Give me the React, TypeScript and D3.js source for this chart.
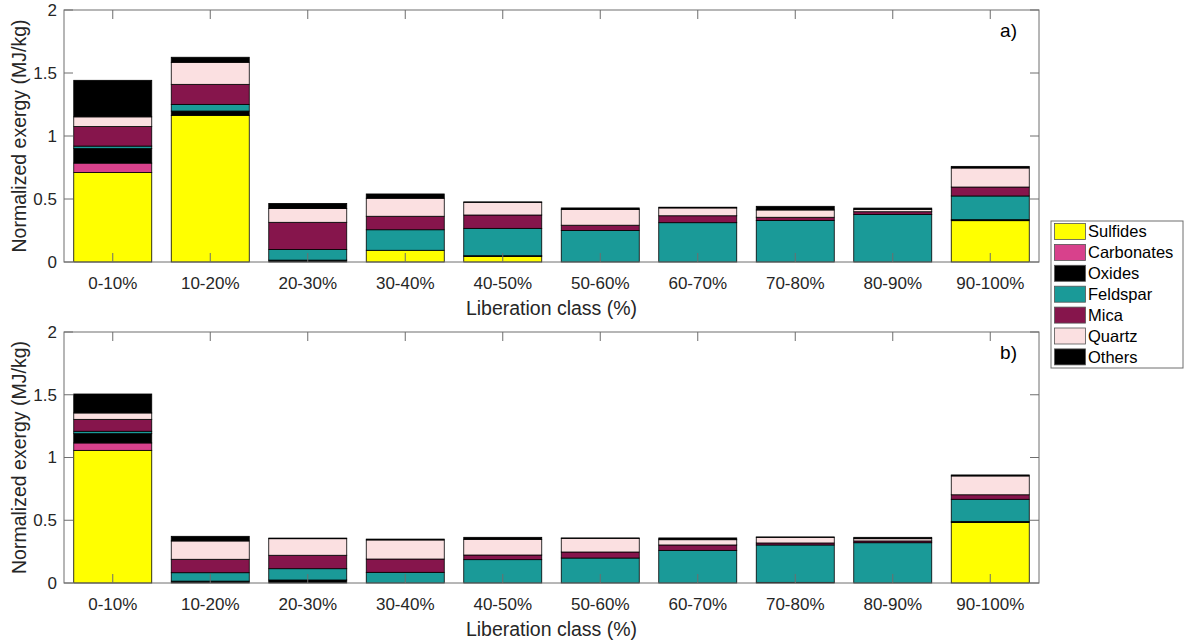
import React from 'react';
import * as d3 from 'd3';

const categories = ['0-10%', '10-20%', '20-30%', '30-40%', '40-50%', '50-60%', '60-70%', '70-80%', '80-90%', '90-100%'];
const seriesNames = ['Sulfides', 'Carbonates', 'Oxides', 'Feldspar', 'Mica', 'Quartz', 'Others'];
const seriesColors = ['#ffff00', '#d8418c', '#000000', '#1a9a98', '#86154c', '#fbe0e1', '#000000'];
const yTicks = [0, 0.5, 1, 1.5, 2];

// panel a)
const sulfidesA = [0.71, 1.164, 0, 0.093, 0.045, 0, 0, 0, 0, 0.328];
const carbonatesA = [0.075, 0, 0, 0, 0, 0, 0, 0, 0, 0];
const oxidesA = [0.115, 0.034, 0.015, 0, 0.005, 0, 0, 0, 0, 0.008];
const feldsparA = [0.02, 0.053, 0.085, 0.163, 0.217, 0.25, 0.312, 0.33, 0.378, 0.188];
const micaA = [0.155, 0.159, 0.215, 0.107, 0.106, 0.042, 0.055, 0.025, 0.021, 0.071];
const quartzA = [0.077, 0.175, 0.11, 0.143, 0.101, 0.124, 0.062, 0.058, 0.019, 0.151];
const othersA = [0.29, 0.04, 0.04, 0.034, 0.003, 0.013, 0.006, 0.029, 0.01, 0.013];

// panel b)
const sulfidesB = [1.057, 0, 0, 0, 0, 0, 0, 0, 0, 0.483];
const carbonatesB = [0.059, 0, 0, 0, 0, 0, 0, 0, 0, 0];
const oxidesB = [0.074, 0.015, 0.024, 0, 0, 0, 0, 0.005, 0, 0.007];
const feldsparB = [0.019, 0.067, 0.09, 0.085, 0.186, 0.199, 0.26, 0.298, 0.321, 0.177];
const micaB = [0.095, 0.107, 0.107, 0.106, 0.037, 0.048, 0.043, 0.016, 0.014, 0.036];
const quartzB = [0.051, 0.146, 0.132, 0.152, 0.125, 0.109, 0.042, 0.045, 0.018, 0.15];
const othersB = [0.151, 0.037, 0.005, 0.007, 0.016, 0.003, 0.014, 0.003, 0.011, 0.008];

const FONT = '"Liberation Sans", Arial, sans-serif';
const AXIS = '#6e6e6e';
const TEXT = '#262626';

const left = 64;
const right = 1039;

const buildRows = (cols: number[][]) =>
  categories.map((c, i) => {
    const row: Record<string, any> = { cat: c };
    seriesNames.forEach((s, j) => (row[s] = cols[j][i]));
    return row;
  });

interface PanelProps {
  cols: number[][];
  top: number;
  bottom: number;
  tag: string;
}

const Panel: React.FC<PanelProps> = ({ cols, top, bottom, tag }) => {
  const rows = buildRows(cols);
  const stacked = d3.stack<any>().keys(seriesNames)(rows);
  const x = d3.scaleBand().domain(categories).range([left, right]).paddingInner(0.2).paddingOuter(0.1);
  const y = d3.scaleLinear().domain([0, 2]).range([bottom, top]);
  const tl = 9;

  return (
    <g>
      {stacked.map((layer, j) => (
        <g key={seriesNames[j]}>
          {layer.map((d, i) =>
            d[1] - d[0] > 0 ? (
              <rect
                key={i}
                x={x(categories[i])!}
                width={x.bandwidth()}
                y={y(d[1])}
                height={y(d[0]) - y(d[1])}
                fill={seriesColors[j]}
                stroke="#000"
                strokeWidth={0.8}
              />
            ) : null
          )}
        </g>
      ))}
      {/* box */}
      <rect x={left} y={top} width={right - left} height={bottom - top} fill="none" stroke={AXIS} strokeWidth={1} />
      {/* y ticks */}
      {yTicks.map((t) => (
        <g key={t}>
          <line x1={left} x2={left + tl} y1={y(t)} y2={y(t)} stroke={AXIS} />
          <line x1={right} x2={right - tl} y1={y(t)} y2={y(t)} stroke={AXIS} />
          <text x={left - 7} y={y(t)} dy="0.35em" textAnchor="end" fontSize={17} fill={TEXT} fontFamily={FONT}>
            {t}
          </text>
        </g>
      ))}
      {/* x ticks */}
      {categories.map((c) => {
        const cx = x(c)! + x.bandwidth() / 2;
        return (
          <g key={c}>
            <line x1={cx} x2={cx} y1={bottom} y2={bottom - tl} stroke={AXIS} />
            <line x1={cx} x2={cx} y1={top} y2={top + tl} stroke={AXIS} />
            <text x={cx} y={bottom + 21} dy="0.35em" textAnchor="middle" fontSize={17} fill={TEXT} fontFamily={FONT}>
              {c}
            </text>
          </g>
        );
      })}
      <text x={(left + right) / 2} y={bottom + 46} dy="0.35em" textAnchor="middle" fontSize={19.5} fill={TEXT} fontFamily={FONT}>
        Liberation class (%)
      </text>
      <text
        transform={`translate(19,${(top + bottom) / 2}) rotate(-90)`}
        dy="0.35em"
        textAnchor="middle"
        fontSize={19.5}
        fill={TEXT}
        fontFamily={FONT}
      >
        Normalized exergy (MJ/kg)
      </text>
      <text x={1017} y={top + 20} dy="0.35em" textAnchor="end" fontSize={19} fill="#000" fontFamily={FONT}>
        {tag}
      </text>
    </g>
  );
};

const Legend: React.FC = () => {
  const lx = 1051;
  const ly = 221;
  const step = 20.9;
  return (
    <g>
      <rect x={lx} y={ly} width={132} height={147} fill="#fff" stroke={AXIS} strokeWidth={1} />
      {seriesNames.map((s, j) => {
        const cy = ly + 10.5 + j * step;
        return (
          <g key={s}>
            <rect x={lx + 3.5} y={cy - 8} width={31} height={16} fill={seriesColors[j]} stroke="#555" strokeWidth={0.8} />
            <text x={lx + 37} y={cy} dy="0.35em" fontSize={16.5} fill="#000" fontFamily={FONT}>
              {s}
            </text>
          </g>
        );
      })}
    </g>
  );
};

const App: React.FC = () => {
  const colsA = [sulfidesA, carbonatesA, oxidesA, feldsparA, micaA, quartzA, othersA];
  const colsB = [sulfidesB, carbonatesB, oxidesB, feldsparB, micaB, quartzB, othersB];
  return (
    <svg width={1186} height={643} style={{ position: 'absolute', left: 0, top: 0, background: '#fff' }}>
      <rect width={1186} height={643} fill="#fff" />
      <Panel cols={colsA} top={10} bottom={262} tag="a)" />
      <Panel cols={colsB} top={332} bottom={583} tag="b)" />
      <Legend />
    </svg>
  );
};

export default App;
